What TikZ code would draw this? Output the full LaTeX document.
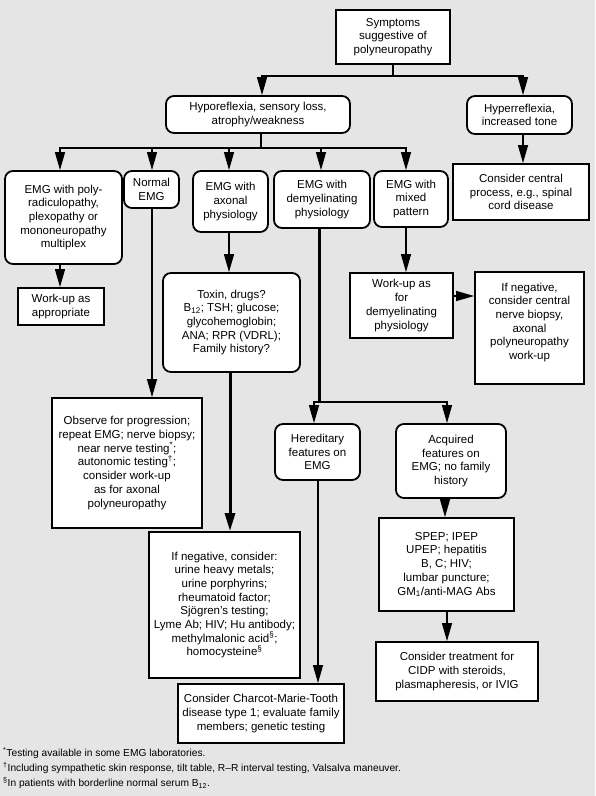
\documentclass[tikz,border=0pt]{standalone}
\usepackage{fontspec}
\setmainfont{Liberation Sans}
\usetikzlibrary{arrows.meta}
\definecolor{bgcol}{RGB}{229,229,229}
\tikzset{
  boxbase/.style={draw=black, fill=white, line width=1.8pt, align=center, inner sep=0pt,
    font=\fontsize{11.5}{13.7}\selectfont},
  sq/.style={boxbase},
  rd/.style={boxbase, rounded corners=8pt},
  conn/.style={line width=1.3pt},
  arr/.style={conn, -{Triangle[length=18pt,width=10pt]}},
  thickline/.style={line width=3pt},
  thickarr/.style={line width=3pt, -{Triangle[length=18pt,width=10pt]}},
  fn/.style={anchor=base west, inner sep=0pt, font=\fontsize{10.2}{12}\selectfont}
}
\begin{document}
\begin{tikzpicture}[x=1pt, y=-1pt]
\useasboundingbox (0,0) rectangle (595,796);
\fill[bgcol] (0,0) rectangle (595,796);

% nodes
\node[sq, minimum width=114pt, minimum height=54pt] (sym) at (393,37) {Symptoms\\suggestive of\\polyneuropathy};
\node[rd, minimum width=184pt, minimum height=37pt] (hypo) at (258,114.5) {Hyporeflexia, sensory loss,\\atrophy/weakness};
\node[rd, minimum width=105pt, minimum height=38pt] (hyper) at (519.5,115) {Hyperreflexia,\\increased tone};
\node[sq, minimum width=136pt, minimum height=56pt] (central) at (521,192) {Consider central\\process, e.g., spinal\\cord disease};

\node[rd, minimum width=117pt, minimum height=93pt] (poly) at (63.5,217.5) {EMG with poly-\\radiculopathy,\\plexopathy or\\mononeuropathy\\multiplex};
\node[rd, minimum width=55pt, minimum height=37pt] (normal) at (151.5,189.5) {Normal\\EMG};
\node[rd, minimum width=75pt, minimum height=61pt] (axonal) at (230.5,201.5) {EMG with\\axonal\\physiology};
\node[rd, minimum width=96pt, minimum height=57pt] (demyel) at (322,199.5) {EMG with\\demyelinating\\physiology};
\node[rd, minimum width=74pt, minimum height=56pt] (mixed) at (411,199) {EMG with\\mixed\\pattern};

\node[sq, minimum width=86pt, minimum height=37pt] (workapp) at (61,306.5) {Work-up as\\appropriate};
\node[rd, minimum width=137pt, minimum height=99pt] (toxin) at (231.5,322.5) {Toxin, drugs?\\B\textsubscript{12}; TSH; glucose;\\glycohemoglobin;\\ANA; RPR (VDRL);\\Family history?};
\node[sq, minimum width=103pt, minimum height=65pt] (workdem) at (401.5,305.5) {Work-up as\\for\\demyelinating\\physiology};
\node[sq, minimum width=109pt, minimum height=112pt] (ifneg) at (529.5,328) {If negative,\\consider central\\nerve biopsy,\\axonal\\polyneuropathy\\work-up\\~};

\node[sq, minimum width=150pt, minimum height=130pt] (observe) at (127,463) {Observe for progression;\\repeat EMG; nerve biopsy;\\near nerve testing\textsuperscript{*};\\autonomic testing\textsuperscript{†};\\consider work-up\\as for axonal\\polyneuropathy};
\node[rd, minimum width=85pt, minimum height=56pt] (hered) at (317.5,452) {Hereditary\\features on\\EMG};
\node[rd, minimum width=110pt, minimum height=74pt] (acq) at (451,461) {Acquired\\features on\\EMG; no family\\history};

\node[sq, minimum width=151pt, minimum height=146pt] (ifnegc) at (224.5,605) {If negative, consider:\\urine heavy metals;\\urine porphyrins;\\rheumatoid factor;\\Sjögren’s testing;\\Lyme Ab; HIV; Hu antibody;\\methylmalonic acid\textsuperscript{§};\\homocysteine\textsuperscript{§}};
\node[sq, minimum width=166pt, minimum height=59pt] (cmt) at (261,713.5) {Consider Charcot-Marie-Tooth\\disease type 1; evaluate family\\members; genetic testing};
\node[sq, minimum width=135pt, minimum height=93pt] (spep) at (446.5,564.5) {SPEP; IPEP\\UPEP; hepatitis\\B, C; HIV;\\lumbar puncture;\\GM\textsubscript{1}/anti-MAG Abs};
\node[sq, minimum width=162pt, minimum height=59pt] (cidp) at (457,671.5) {Consider treatment for\\CIDP with steroids,\\plasmapheresis, or IVIG};

% connectors
\coordinate (b1) at (393,76);
\draw[conn] (sym.south) -- (b1);
\draw[arr] (b1) -| ([xshift=4pt]hypo.north);
\draw[arr] (b1) -| ([xshift=3.5pt]hyper.north);

\coordinate (b2) at (261,148);
\draw[conn] ([xshift=3pt]hypo.south) -- (b2);
\draw[arr] (b2) -| ([xshift=-3.5pt]poly.north);
\draw[arr] (b2) -| ([xshift=0.5pt]normal.north);
\draw[arr] (b2) -| ([xshift=-1.5pt]axonal.north);
\draw[arr] (b2) -| ([xshift=-1pt]demyel.north);
\draw[arr] (b2) -| ([xshift=-5pt]mixed.north);

\draw[arr] ([xshift=3.5pt]hyper.south) -- ([xshift=3.5pt]hyper.south |- central.north);
\draw[arr] ([xshift=-3.5pt]poly.south) -- ([xshift=-3.5pt]poly.south |- workapp.north);
\draw[arr] ([xshift=0.5pt]normal.south) -- ([xshift=0.5pt]normal.south |- observe.north);
\draw[arr] ([xshift=-1.5pt]axonal.south) -- ([xshift=-1.5pt]axonal.south |- toxin.north);
\draw[arr] ([xshift=-5pt]mixed.south) -- ([xshift=-5pt]mixed.south |- workdem.north);
\draw[arr] ([yshift=9.5pt]workdem.east) -- ([yshift=9.5pt]workdem.east -| ifneg.west);

\coordinate (b3) at (319,402);
\draw[thickline] ([xshift=-3pt]demyel.south) -- (b3);
\draw[arr] (b3) -| ([xshift=-3.5pt]hered.north);
\draw[arr] (b3) -| ([xshift=-4pt]acq.north);

\draw[thickarr] ([xshift=-1.5pt]toxin.south) -- ([xshift=-1.5pt]toxin.south |- ifnegc.north);
\draw[arr] ([xshift=0.5pt]hered.south) -- ([xshift=0.5pt]hered.south |- cmt.north);
\draw[arr] ([xshift=-6pt]acq.south) -- ([xshift=-6pt]acq.south |- spep.north);
\draw[arr] ([xshift=0.5pt]spep.south) -- ([xshift=0.5pt]spep.south |- cidp.north);

% footnotes
\node[fn] (fn1) at (3,756.5) {\textsuperscript{*}Testing available in some EMG laboratories.};
\node[fn] (fn2) at (3,771.5) {\textsuperscript{†}Including sympathetic skin response, tilt table, R–R interval testing, Valsalva maneuver.};
\node[fn] (fn3) at (3,786.5) {\textsuperscript{§}In patients with borderline normal serum B\textsubscript{12}.};
\end{tikzpicture}
\end{document}
